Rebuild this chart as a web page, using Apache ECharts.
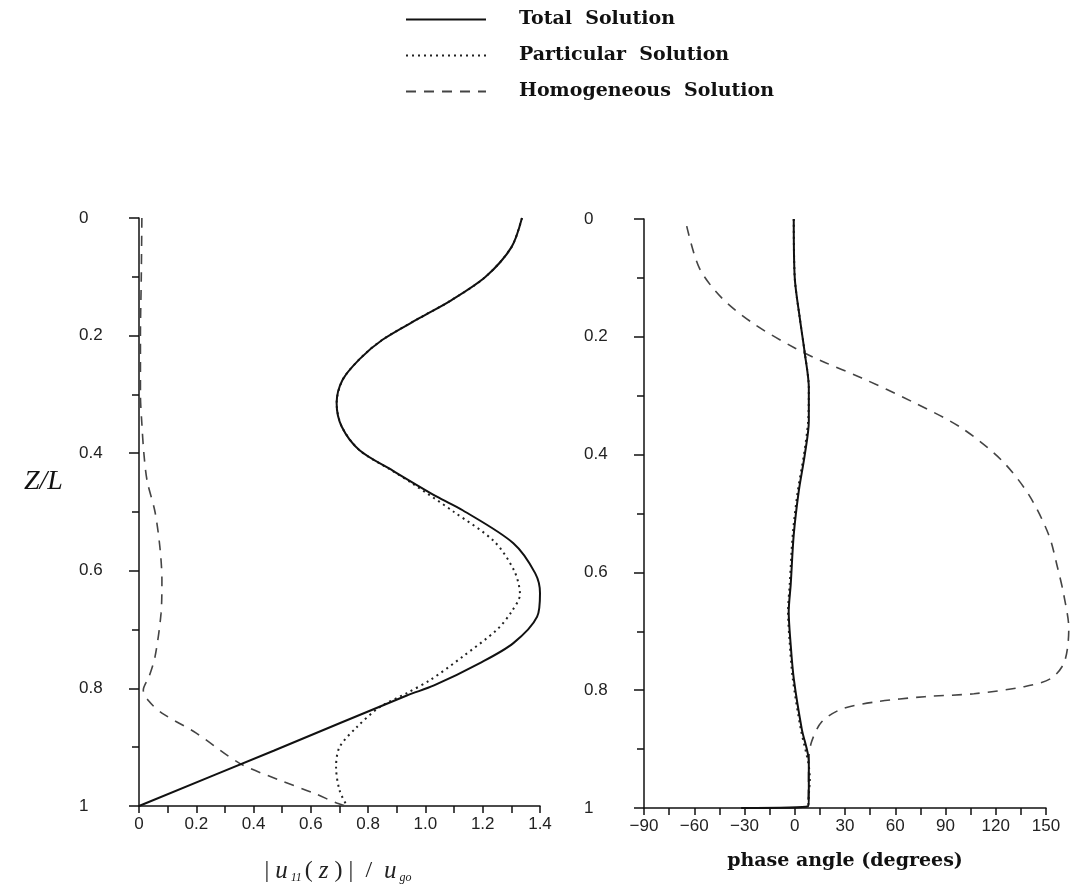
<!DOCTYPE html>
<html><head><meta charset="utf-8">
<script src="https://cdn.jsdelivr.net/npm/echarts@6/dist/echarts.min.js"></script>
<style>html,body{margin:0;padding:0;background:#fff}#c{width:1074px;height:890px}</style>
</head><body><div id="c"></div>
<script>
const seriesNames = ['Total Solution', 'Particular Solution', 'Homogeneous Solution'];

// Left panel: [ |u11(z)|/ugo , Z/L ]
const magTotal = [
  [1.337,0],[1.30,0.05],[1.21,0.10],[1.09,0.14],[0.98,0.17],[0.85,0.207],[0.77,0.24],
  [0.71,0.276],[0.69,0.315],[0.708,0.355],[0.77,0.395],[0.887,0.43],[1.04,0.474],
  [1.13,0.497],[1.307,0.553],[1.383,0.604],[1.40,0.638],[1.39,0.678],[1.307,0.723],
  [1.19,0.757],[1.03,0.795],[0.935,0.812],[0.47,0.906],[0,1.0]
];
const magParticular = [
  [1.337,0],[1.30,0.05],[1.21,0.10],[1.09,0.14],[0.98,0.17],[0.85,0.207],[0.77,0.24],
  [0.71,0.276],[0.69,0.315],[0.708,0.355],[0.77,0.395],[0.885,0.43],[0.95,0.45],
  [1.10,0.50],[1.24,0.55],[1.31,0.60],[1.33,0.64],[1.30,0.67],[1.25,0.70],[1.13,0.746],
  [1.016,0.786],[0.935,0.808],[0.84,0.832],[0.76,0.866],[0.70,0.90],[0.688,0.934],
  [0.70,0.973],[0.726,1.0]
];
const magHomogeneous = [
  [0.01,0],[0.008,0.1],[0.005,0.2],[0.005,0.3],[0.01,0.35],[0.017,0.4],[0.028,0.446],
  [0.056,0.5],[0.073,0.56],[0.08,0.615],[0.077,0.672],[0.056,0.746],[0.035,0.78],
  [0.015,0.803],[0.035,0.822],[0.08,0.842],[0.20,0.876],[0.35,0.927],[0.49,0.956],
  [0.61,0.978],[0.69,0.995],[0.72,1.0]
];

// Right panel: [ phase angle (deg) , Z/L ]
const phaseTotal = [
  [-0.6,0],[0,0.1],[3,0.168],[6,0.228],[8.4,0.287],[8.4,0.343],[6,0.40],[2.4,0.462],
  [-0.6,0.536],[-2.4,0.62],[-3.6,0.667],[-2.5,0.72],[-0.6,0.78],[4.2,0.866],[8.4,0.922],
  [8.4,0.978],[8,0.997],[-32,1.0]
];
const phaseParticular = [
  [-0.6,0],[0,0.1],[3,0.168],[6,0.228],[8.4,0.287],[8.0,0.343],[5.5,0.40],[1.8,0.462],
  [-1.2,0.536],[-3.0,0.62],[-4.0,0.667],[-3.0,0.72],[-1.2,0.78],[3.6,0.866],[8,0.922],
  [9,0.95],[8.4,0.978],[8,1.0]
];
const phaseHomogeneous = [
  [-64.5,0.012],[-57,0.083],[-43.6,0.134],[-23.9,0.179],[0,0.219],[16,0.241],[40,0.27],
  [70,0.31],[99.7,0.355],[123.6,0.41],[139.7,0.468],[151.6,0.536],[157,0.593],
  [160.6,0.638],[163.6,0.695],[161,0.752],[153,0.78],[137,0.794],[107,0.806],
  [77.6,0.811],[47.8,0.82],[28,0.832],[16,0.854],[10,0.888],[8.4,0.917],[8.2,0.96],[8,1.0]
];

const lineStyles = [
  {color:'#111', width:2, type:'solid'},
  {color:'#222', width:2, type:[2,4]},
  {color:'#444', width:1.6, type:[10,8]}
];

const chart = echarts.init(document.getElementById('c'));
const axisFont = {fontFamily:'Liberation Sans', fontSize:17, color:'#222'};
const axLine = {show:true, onZero:false, lineStyle:{color:'#111', width:1.5}};

function yAxisFor(gi){
  return {
    type:'value', gridIndex:gi, inverse:true, min:0, max:1, interval:0.2,
    axisLine:axLine, splitLine:{show:false},
    axisTick:{show:true, inside:false, length:10, lineStyle:{color:'#111', width:1.5}},
    minorTick:{show:true, splitNumber:2, length:7, lineStyle:{color:'#111', width:1.5}},
    axisLabel:Object.assign({margin:60, align:'left',
      formatter:v => (v===0||v===1) ? String(v) : v.toFixed(1)}, axisFont)
  };
}

function mk(name, data, gi, idx){
  return {
    name:name, type:'line', xAxisIndex:gi, yAxisIndex:gi, data:data,
    symbol:'none', smooth:0.3, clip:false,
    lineStyle:lineStyles[idx], itemStyle:{color:lineStyles[idx].color},
    z: 3-idx
  };
}

// right panel: hidden overlay grid extends the same degree scale to 165 deg
chart.setOption({
  animation:false,
  backgroundColor:'#fff',
  legend:{
    orient:'vertical', left:400, top:4, itemWidth:80, itemHeight:14, itemGap:15,
    data:seriesNames,
    itemStyle:{color:'rgba(0,0,0,0)', borderColor:'rgba(0,0,0,0)', borderWidth:0, opacity:0},
    formatter: n => n.replace(' ', '  '),
    textStyle:{fontFamily:'DejaVu Serif', fontWeight:'bold', fontSize:19, color:'#111',
      lineHeight:21, padding:[0,0,0,28]}
  },
  grid:[
    {left:139, right:534, top:218, bottom:84},
    {left:644, right:28, top:219, bottom:82},
    {left:644, right:2.875, top:219, bottom:82}
  ],
  xAxis:[
    {type:'value', gridIndex:0, min:0, max:1.4, interval:0.2,
     axisLine:axLine, splitLine:{show:false},
     axisTick:{show:true, length:7, lineStyle:{color:'#111', width:1.5}},
     minorTick:{show:true, splitNumber:2, length:7, lineStyle:{color:'#111', width:1.5}},
     axisLabel:Object.assign({margin:10, formatter:v => v===0 ? '0' : v.toFixed(1)}, axisFont),
     name:'{a|| }{u|u}{s|11}{a|( }{u|z}{a| ) |  /  }{u|u}{s|go}',
     nameLocation:'middle', nameGap:52,
     nameTextStyle:{
       rich:{
         a:{fontFamily:'Liberation Serif', fontSize:24, color:'#222'},
         u:{fontFamily:'Liberation Serif', fontStyle:'italic', fontSize:25, color:'#222'},
         s:{fontFamily:'Liberation Serif', fontStyle:'italic', fontSize:12, color:'#222', padding:[14,3,0,3]}
       }
     }
    },
    {type:'value', gridIndex:1, min:-90, max:150, interval:30,
     axisLine:axLine, splitLine:{show:false},
     axisTick:{show:true, length:7, lineStyle:{color:'#111', width:1.5}},
     minorTick:{show:true, splitNumber:2, length:7, lineStyle:{color:'#111', width:1.5}},
     axisLabel:Object.assign({margin:10, formatter:v => v<0 ? '\u2212'+Math.abs(v) : String(v)}, axisFont),
     name:'phase angle (degrees)', nameLocation:'middle', nameGap:44,
     nameTextStyle:{fontFamily:'DejaVu Serif', fontWeight:'bold', fontSize:19, color:'#111'}
    },
    {type:'value', gridIndex:2, min:-90, max:165, show:false}
  ],
  yAxis:[yAxisFor(0), yAxisFor(1),
    {type:'value', gridIndex:2, inverse:true, min:0, max:1, show:false}],
  graphic:[
    {type:'text', left:24, top:468,
     style:{text:'Z/L', fontFamily:'Liberation Serif', fontStyle:'italic', fontSize:28, fill:'#111'}}
  ],
  series:[
    mk(seriesNames[0], magTotal, 0, 0),
    mk(seriesNames[1], magParticular, 0, 1),
    mk(seriesNames[2], magHomogeneous, 0, 2),
    mk(seriesNames[0], phaseTotal, 1, 0),
    mk(seriesNames[1], phaseParticular, 1, 1),
    mk(seriesNames[2], phaseHomogeneous, 2, 2)
  ]
});
</script>
</body></html>
